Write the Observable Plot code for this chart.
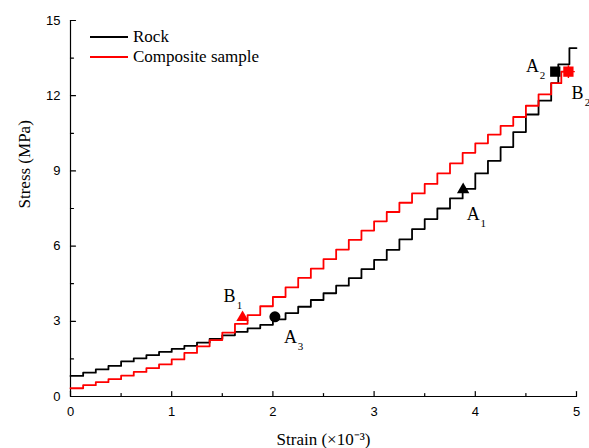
<!DOCTYPE html>
<html><head><meta charset="utf-8">
<script src="https://cdn.jsdelivr.net/npm/d3@7"></script>
<script src="https://cdn.jsdelivr.net/npm/@observablehq/plot@0.6"></script>
<style>
body{margin:0;background:#fff;}
#wrap{position:relative;width:589px;height:448px;}
#wrap svg{position:absolute;left:0;top:0;display:block;}
.leg{position:absolute;left:90px;font-family:"Liberation Serif","Times New Roman",serif;font-size:17px;line-height:20px;display:flex;align-items:center;}
.leg span.sw{display:inline-block;width:38px;height:2px;margin-right:5px;}
</style></head><body><div id="wrap"></div>
<script>
// Series names
const seriesNames = ["Rock", "Composite sample"];
// Rock (black) staircase: strain (x10^-3) and stress (MPa)
const rockX = [0, 0.125, 0.25, 0.375, 0.5, 0.625, 0.75, 0.875, 1.0, 1.125, 1.25, 1.375, 1.5, 1.625, 1.75, 1.875, 2.0, 2.125, 2.25, 2.375, 2.5, 2.625, 2.75, 2.875, 3.0, 3.125, 3.25, 3.375, 3.5, 3.625, 3.75, 3.875, 4.0, 4.125, 4.25, 4.375, 4.5, 4.625, 4.75, 4.82, 4.93, 5.0];
const rockY = [0.82, 0.95, 1.08, 1.22, 1.4, 1.52, 1.65, 1.78, 1.9, 2.02, 2.15, 2.3, 2.44, 2.58, 2.72, 2.86, 3.08, 3.33, 3.58, 3.85, 4.12, 4.42, 4.72, 5.08, 5.45, 5.85, 6.27, 6.68, 7.08, 7.5, 7.9, 8.28, 8.9, 9.4, 9.95, 10.55, 11.25, 11.8, 12.5, 13.25, 13.9, 13.9];
// Composite sample (red) staircase
const compX = [0, 0.125, 0.25, 0.375, 0.5, 0.625, 0.75, 0.875, 1.0, 1.125, 1.25, 1.375, 1.5, 1.625, 1.75, 1.875, 2.0, 2.125, 2.25, 2.375, 2.5, 2.625, 2.75, 2.875, 3.0, 3.125, 3.25, 3.375, 3.5, 3.625, 3.75, 3.875, 4.0, 4.125, 4.25, 4.375, 4.5, 4.625, 4.75, 4.85, 4.95];
const compY = [0.33, 0.45, 0.57, 0.69, 0.83, 0.98, 1.13, 1.28, 1.48, 1.74, 2.0, 2.25, 2.55, 2.9, 3.25, 3.6, 3.97, 4.35, 4.73, 5.1, 5.48, 5.86, 6.25, 6.62, 6.99, 7.36, 7.73, 8.1, 8.48, 8.9, 9.3, 9.72, 10.1, 10.45, 10.8, 11.15, 11.6, 12.05, 12.5, 12.96, 12.96];
// Marked points
const pointNames = ["B1", "A3", "A1", "A2", "B2"];
const pointSeries = ["Composite sample", "Rock", "Rock", "Rock", "Composite sample"];
const pointX = [1.70, 2.02, 3.88, 4.79, 4.92];
const pointY = [3.15, 3.18, 8.25, 12.96, 12.96];
const pointLetter = ["B", "A", "A", "A", "B"];
const pointSub = ["1", "3", "1", "2", "2"];
const labelX = [1.571, 2.174, 3.98, 4.565, 5.01];
const labelY = [4.0, 2.36, 7.28, 13.16, 12.08];
// Ticks
const strainTicks = [0, 1, 2, 3, 4, 5];
const strainMinor = [0.5, 1.5, 2.5, 3.5, 4.5];
const stressTicks = [0, 3, 6, 9, 12, 15];
const stressMinor = [1.5, 4.5, 7.5, 10.5, 13.5];
const xTitle = "Strain (×10⁻³)";
const yTitle = "Stress (MPa)";

const lines = [
  ...rockX.map((x, i) => ({strain: x, stress: rockY[i], series: seriesNames[0]})),
  ...compX.map((x, i) => ({strain: x, stress: compY[i], series: seriesNames[1]}))
];
const points = pointNames.map((n, i) => ({name: n, series: pointSeries[i], strain: pointX[i], stress: pointY[i],
  letter: pointLetter[i], sub: pointSub[i], lx: labelX[i], ly: labelY[i]}));

const serif = "'Liberation Serif','Times New Roman',serif";
const sans = "'Liberation Sans',Arial,sans-serif";

// inward tick marks drawn as short vectors from the axis lines
const tickUp = {draw(ctx, l) { ctx.moveTo(0, 0); ctx.lineTo(0, -l); }};
const tickRight = {draw(ctx, l) { ctx.moveTo(0, 0); ctx.lineTo(l, 0); }};

const chart = Plot.plot({
  width: 589, height: 448,
  marginLeft: 70, marginRight: 13, marginTop: 20, marginBottom: 52,
  x: {domain: [0, 5]},
  y: {domain: [0, 15]},
  color: {domain: seriesNames, range: ["#000000", "#ff0000"]},
  style: {background: "white", overflow: "visible"},
  marks: [
    Plot.ruleX([0], {stroke: "#000", strokeWidth: 1.2}),
    Plot.ruleY([0], {stroke: "#000", strokeWidth: 1.2}),
    Plot.vector(strainTicks, {x: d => d, y: 0, length: 5, anchor: "start", shape: tickUp, stroke: "#000", strokeWidth: 1.2}),
    Plot.vector(strainMinor, {x: d => d, y: 0, length: 3, anchor: "start", shape: tickUp, stroke: "#000", strokeWidth: 1.2}),
    Plot.vector(stressTicks, {x: 0, y: d => d, length: 5, anchor: "start", shape: tickRight, stroke: "#000", strokeWidth: 1.2}),
    Plot.vector(stressMinor, {x: 0, y: d => d, length: 3, anchor: "start", shape: tickRight, stroke: "#000", strokeWidth: 1.2}),
    Plot.axisX(strainTicks, {tickSize: 0, tickPadding: 10, label: null, fontFamily: sans, fontSize: 13, fill: "#000"}),
    Plot.axisY(stressTicks, {tickSize: 0, tickPadding: 10, label: null, fontFamily: sans, fontSize: 13, fill: "#000"}),
    Plot.text([xTitle], {frameAnchor: "bottom", dy: 43, lineAnchor: "middle", fontFamily: serif, fontSize: 17, fill: "#000"}),
    Plot.text([yTitle], {frameAnchor: "left", dx: -46, rotate: -90, lineAnchor: "middle", fontFamily: serif, fontSize: 17, fill: "#000"}),
    Plot.line(lines, {x: "strain", y: "stress", z: "series", stroke: "series", curve: "step-after", strokeWidth: 1.8}),
    Plot.dot(points, {filter: d => d.name === "B1" || d.name === "A1", x: "strain", y: "stress", fill: "series", symbol: "triangle", r: 4.6}),
    Plot.dot(points, {filter: d => d.name === "A3", x: "strain", y: "stress", fill: "series", symbol: "circle", r: 5.5}),
    Plot.dot(points, {filter: d => d.name === "B2", x: "strain", y: "stress", stroke: "series", symbol: "plus", r: 4.2, strokeWidth: 1.4}),
    Plot.dot(points, {filter: d => d.name === "A2" || d.name === "B2", x: "strain", y: "stress", fill: "series", symbol: "square", r: 5.8}),
    Plot.text(points, {x: "lx", y: "ly", text: "letter", fontFamily: serif, fontSize: 18, fill: "#000"}),
    Plot.text(points, {x: "lx", y: "ly", text: "sub", dx: 10, dy: 9, fontFamily: serif, fontSize: 11, fill: "#000"})
  ]
});
const wrap = document.getElementById("wrap");
wrap.appendChild(chart);
// Legend (inside the plot area, top-left)
const colors = ["#000000", "#ff0000"];
seriesNames.forEach((n, i) => {
  const d = document.createElement("div");
  d.className = "leg";
  d.style.top = (27 + i * 20) + "px";
  d.innerHTML = `<span class="sw" style="background:${colors[i]}"></span><span></span>`;
  d.lastChild.textContent = n;
  wrap.appendChild(d);
});
</script>
</body></html>
